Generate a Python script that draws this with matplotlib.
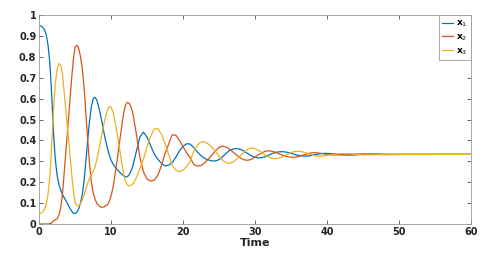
import numpy as np
import matplotlib
matplotlib.use('Agg')
import matplotlib.pyplot as plt

# time samples (finer where the curves move fast)
t = [0.0, 0.25, 0.5, 0.75, 1.0, 1.25, 1.5, 1.75, 2.0, 2.25, 2.5, 2.75, 3.0, 3.25,
     3.5, 3.75, 4.0, 4.25, 4.5, 4.75, 5.0, 5.25, 5.5, 5.75, 6.0, 6.25, 6.5, 6.75,
     7.0, 7.25, 7.5, 7.75, 8.0, 8.25, 8.5, 8.75, 9.0, 9.25, 9.5, 9.75, 10.0, 10.25,
     10.5, 10.75, 11.0, 11.25, 11.5, 11.75, 12.0, 12.25, 12.5, 12.75, 13.0,
     13.5, 14.0, 14.5,
     15.0, 15.5, 16.0, 16.5, 17.0, 17.5, 18.0, 18.5, 19.0, 19.5, 20.0, 20.5, 21.0,
     21.5, 22.0, 22.5, 23.0, 23.5, 24.0, 24.5, 25.0, 25.5, 26.0, 26.5, 27.0, 27.5,
     28.0, 28.5, 29.0, 29.5, 30.0, 30.5, 31.0, 31.5, 32.0, 32.5, 33.0, 33.5, 34.0,
     34.5, 35.0, 35.5, 36.0, 36.5, 37.0, 37.5, 38.0, 38.5, 39.0, 39.5, 40.0,
     41, 42, 43, 44, 45, 46, 47, 48, 50, 52, 55, 60]

x1 = [0.950, 0.948, 0.942, 0.930, 0.905, 0.855, 0.770, 0.620, 0.440, 0.310, 0.235, 0.190,
      0.162, 0.142, 0.125, 0.110, 0.095, 0.078, 0.063, 0.052, 0.050, 0.056, 0.072, 0.100,
      0.140, 0.205, 0.300, 0.400, 0.490, 0.560, 0.598, 0.607, 0.595, 0.565, 0.528, 0.485,
      0.440, 0.398, 0.362, 0.330, 0.306, 0.289, 0.276, 0.265, 0.255, 0.246, 0.238, 0.231,
      0.226, 0.226, 0.235, 0.252, 0.275,
      0.345, 0.415, 0.440, 0.415, 0.375, 0.335, 0.310, 0.290, 0.278,
      0.282, 0.293, 0.320, 0.350, 0.372, 0.384, 0.383, 0.365, 0.345, 0.327, 0.314, 0.307,
      0.302, 0.302, 0.308, 0.322, 0.339, 0.353, 0.359, 0.361, 0.357, 0.348, 0.337, 0.326,
      0.319, 0.316, 0.318, 0.323, 0.331, 0.339, 0.344, 0.346, 0.346, 0.343, 0.338, 0.333,
      0.329, 0.326, 0.325, 0.326, 0.329, 0.333, 0.336, 0.338, 0.338,
      0.336, 0.332, 0.330, 0.331, 0.333, 0.335, 0.335, 0.334, 0.333, 0.333, 0.3333, 0.3333]

x2 = [0.000, 0.000, 0.000, 0.000, 0.000, 0.000, 0.002, 0.005, 0.015, 0.020, 0.025, 0.042,
      0.076, 0.143, 0.250, 0.360, 0.465, 0.577, 0.687, 0.783, 0.848, 0.856, 0.842, 0.802,
      0.745, 0.655, 0.532, 0.405, 0.292, 0.205, 0.152, 0.121, 0.100, 0.090, 0.082, 0.080,
      0.082, 0.087, 0.093, 0.108, 0.134, 0.171, 0.224, 0.283, 0.345, 0.409, 0.472, 0.529,
      0.569, 0.582, 0.578, 0.563, 0.535,
      0.435, 0.320, 0.250, 0.215, 0.205, 0.210, 0.233, 0.280, 0.337,
      0.383, 0.427, 0.425, 0.400, 0.370, 0.341, 0.317, 0.285, 0.277, 0.280, 0.293, 0.310,
      0.330, 0.350, 0.367, 0.373, 0.368, 0.357, 0.343, 0.328, 0.315, 0.307, 0.305, 0.310,
      0.320, 0.332, 0.342, 0.349, 0.350, 0.347, 0.341, 0.334, 0.327, 0.322, 0.320, 0.320,
      0.323, 0.328, 0.333, 0.338, 0.341, 0.341, 0.339, 0.336, 0.333,
      0.330, 0.331, 0.333, 0.335, 0.336, 0.334, 0.333, 0.332, 0.333, 0.334, 0.3333, 0.3333]

x3 = [0.050, 0.052, 0.058, 0.070, 0.095, 0.145, 0.228, 0.375, 0.545, 0.670, 0.740, 0.768,
      0.762, 0.715, 0.625, 0.530, 0.440, 0.345, 0.250, 0.165, 0.102, 0.088, 0.086, 0.098,
      0.115, 0.140, 0.168, 0.195, 0.218, 0.235, 0.250, 0.272, 0.305, 0.345, 0.390, 0.435,
      0.478, 0.515, 0.545, 0.562, 0.560, 0.540, 0.500, 0.452, 0.400, 0.345, 0.290, 0.240,
      0.205, 0.188, 0.183, 0.185, 0.190,
      0.220, 0.265, 0.310, 0.370, 0.420, 0.455, 0.457, 0.430, 0.385,
      0.335, 0.280, 0.258, 0.250, 0.258, 0.275, 0.300, 0.350, 0.378, 0.393, 0.393, 0.383,
      0.368, 0.348, 0.325, 0.305, 0.293, 0.290, 0.298, 0.311, 0.328, 0.345, 0.358, 0.364,
      0.361, 0.352, 0.340, 0.328, 0.319, 0.314, 0.313, 0.317, 0.324, 0.334, 0.342, 0.347,
      0.348, 0.346, 0.342, 0.336, 0.330, 0.326, 0.325, 0.326, 0.329,
      0.334, 0.337, 0.337, 0.334, 0.331, 0.331, 0.332, 0.334, 0.334, 0.333, 0.3333, 0.3333]

labels = ['x$_1$', 'x$_2$', 'x$_3$']
colors = ['#0072BD', '#D95319', '#EDB120']

fig = plt.figure(figsize=(5.01, 2.56), dpi=100)
ax = fig.add_axes([0.078, 0.125, 0.862, 0.816])

for y, lab, c in zip([x1, x2, x3], labels, colors):
    ax.plot(t, y, color=c, lw=0.9, label=lab)

ax.set_xlim(0, 60)
ax.set_ylim(0, 1)
ax.set_xticks(np.arange(0, 61, 10))
ax.set_yticks(np.arange(0, 1.01, 0.1))
ax.set_yticklabels(['0'] + ['%.1f' % v for v in np.arange(0.1, 0.95, 0.1)] + ['1'])
ax.tick_params(direction='in', top=True, right=True, length=3, width=0.5,
               labelsize=7, colors='#262626', pad=2)
for lbl in ax.get_xticklabels() + ax.get_yticklabels():
    lbl.set_fontweight('bold')
for s in ax.spines.values():
    s.set_color('#999999')
    s.set_linewidth(0.6)
ax.set_xlabel('Time', fontsize=8, fontweight='bold', color='#262626', labelpad=1)

leg = ax.legend(loc='upper right', fontsize=6.5, handlelength=1.2, handletextpad=0.3,
                borderpad=0.4, labelspacing=0.35, borderaxespad=0, fancybox=False,
                framealpha=1)
leg.get_frame().set_edgecolor('#999999')
leg.get_frame().set_linewidth(0.6)
for txt in leg.get_texts():
    txt.set_fontweight('bold')

fig.savefig('out.png', dpi=100)
